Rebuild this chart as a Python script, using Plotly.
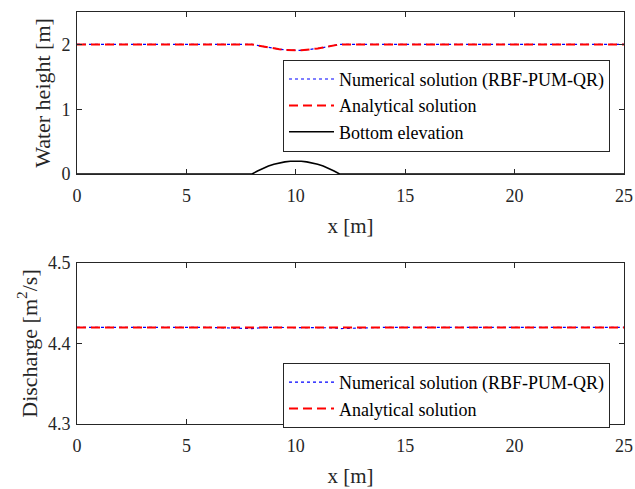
import plotly.graph_objects as go

# ---- data ----
x_pts = [0, 2, 4, 6, 8, 8.25, 8.5, 8.75, 9, 9.25, 9.5, 9.75, 10,
         10.25, 10.5, 10.75, 11, 11.25, 11.5, 11.75, 12, 14, 16, 18, 20, 22, 24, 25]

surface_analytical = [2.0, 2.0, 2.0, 2.0, 2.0, 1.984, 1.967, 1.952, 1.937, 1.925, 1.916, 1.909, 1.908,
                      1.909, 1.916, 1.925, 1.937, 1.952, 1.967, 1.984, 2.0, 2.0, 2.0, 2.0, 2.0, 2.0, 2.0, 2.0]
surface_numerical = [2.0, 2.0, 2.0, 2.0, 2.0, 1.984, 1.967, 1.951, 1.937, 1.925, 1.916, 1.909, 1.908,
                     1.909, 1.916, 1.925, 1.937, 1.951, 1.967, 1.984, 2.0, 2.0, 2.0, 2.0, 2.0, 2.0, 2.0, 2.0]
bottom_elev = [0, 0, 0, 0, 0, 0.047, 0.0875, 0.122, 0.15, 0.172, 0.1875, 0.197, 0.2,
               0.197, 0.1875, 0.172, 0.15, 0.122, 0.0875, 0.047, 0, 0, 0, 0, 0, 0, 0, 0]

discharge_analytical = [4.42] * len(x_pts)
discharge_numerical = [4.42, 4.42, 4.42, 4.42, 4.4185, 4.4195, 4.42, 4.42, 4.42, 4.42, 4.42, 4.42, 4.4202,
                       4.42, 4.42, 4.42, 4.42, 4.42, 4.42, 4.4195, 4.4185, 4.42, 4.42, 4.42, 4.42, 4.42, 4.42, 4.42]

x_ticks = [0, 5, 10, 15, 20, 25]
h_ticks = [0, 1, 2]
q_ticks = [4.3, 4.4, 4.5]

lbl_num = "Numerical solution (RBF-PUM-QR)"
lbl_ana = "Analytical solution"
lbl_bot = "Bottom elevation"

# ---- styles ----
FONT = "Liberation Serif"
TXT = "#262626"
BLUE = "#0000ff"
RED = "#ff0000"

fig = go.Figure()

fig.add_trace(go.Scatter(x=x_pts, y=surface_numerical, mode="lines", name=lbl_num,
                         line=dict(color=BLUE, width=1.2, dash="dot"),
                         xaxis="x", yaxis="y", legend="legend"))
fig.add_trace(go.Scatter(x=x_pts, y=surface_analytical, mode="lines", name=lbl_ana,
                         line=dict(color=RED, width=2, dash="9px,5px"),
                         xaxis="x", yaxis="y", legend="legend"))
fig.add_trace(go.Scatter(x=x_pts, y=bottom_elev, mode="lines", name=lbl_bot,
                         line=dict(color="#000000", width=1.6),
                         xaxis="x", yaxis="y", legend="legend"))

fig.add_trace(go.Scatter(x=x_pts, y=discharge_numerical, mode="lines", name=lbl_num,
                         line=dict(color=BLUE, width=1.2, dash="dot"),
                         xaxis="x2", yaxis="y2", legend="legend2"))
fig.add_trace(go.Scatter(x=x_pts, y=discharge_analytical, mode="lines", name=lbl_ana,
                         line=dict(color=RED, width=2, dash="9px,5px"),
                         xaxis="x2", yaxis="y2", legend="legend2"))

axis_common = dict(showline=True, linecolor=TXT, linewidth=1, mirror="ticks",
                   ticks="inside", ticklen=5, tickcolor=TXT, tickwidth=1,
                   showgrid=False, zeroline=False, automargin=False,
                   tickfont=dict(family=FONT, size=18, color=TXT))
xtitle_font = dict(family=FONT, size=21, color=TXT)
ytitle_font = dict(family=FONT, size=22, color=TXT)

fig.update_layout(
    width=635, height=489,
    margin=dict(l=77, r=11, t=12, b=65),
    paper_bgcolor="white", plot_bgcolor="white",
    font=dict(family=FONT, size=18, color=TXT),
    xaxis=dict(domain=[0, 1], range=[0, 25], tickvals=x_ticks, anchor="y", ticklabelstandoff=5,
               title=dict(text="x [m]", standoff=13, font=xtitle_font),
               **axis_common),
    yaxis=dict(domain=[0.6068, 1], range=[0, 2.5], tickvals=h_ticks, anchor="x", ticklabelstandoff=2,
               title=dict(text="Water height [m]", standoff=4, font=ytitle_font),
               **axis_common),
    xaxis2=dict(domain=[0, 1], range=[0, 25], tickvals=x_ticks, anchor="y2", ticklabelstandoff=5,
                title=dict(text="x [m]", standoff=13, font=xtitle_font),
                **axis_common),
    yaxis2=dict(domain=[0, 0.3908], range=[4.3, 4.5], tickvals=q_ticks, tickformat=".1f", anchor="x2",
                ticklabelstandoff=2,
                title=dict(text="Discharge [m<sup>2</sup>/s]", standoff=4, font=ytitle_font),
                **axis_common),
    legend=dict(x=0.3766, y=0.884, xanchor="left", yanchor="top", xref="paper", yref="paper",
                bgcolor="white", bordercolor=TXT, borderwidth=1,
                font=dict(family=FONT, size=18, color="#000000"),
                tracegroupgap=0, itemwidth=45),
    legend2=dict(x=0.3766, y=0.148, xanchor="left", yanchor="top", xref="paper", yref="paper",
                 bgcolor="white", bordercolor=TXT, borderwidth=1,
                 font=dict(family=FONT, size=18, color="#000000"),
                 tracegroupgap=0, itemwidth=45),
)

fig.write_html("out.html")
